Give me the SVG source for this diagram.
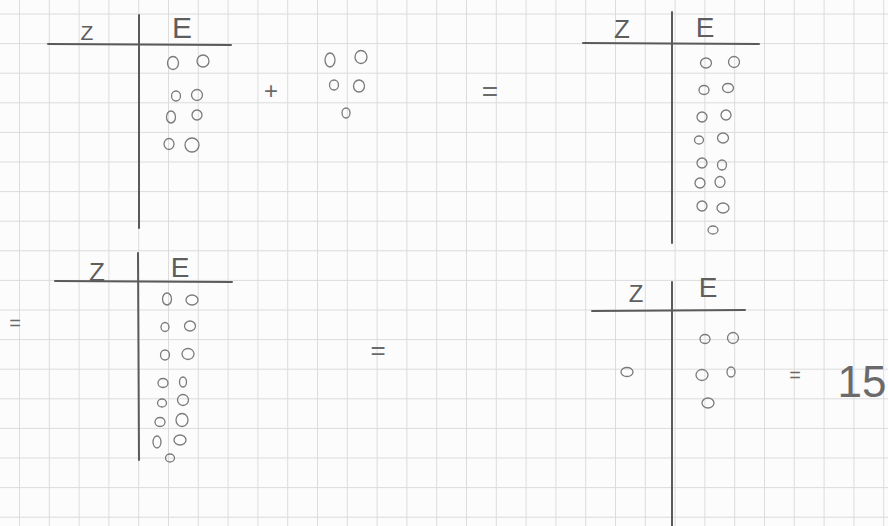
<svg xmlns="http://www.w3.org/2000/svg" width="888" height="526" viewBox="0 0 888 526">
<defs>
<style>
.bg{fill:#fcfcfc}
.grid line{stroke:#dcdcdc;stroke-width:1}
.rule{stroke:#5a5a5a;stroke-width:2;stroke-linecap:round}
.dot{fill:none;stroke:#7a7a7a;stroke-width:1.3}
.lbl{font-family:"Liberation Sans","DejaVu Sans",sans-serif;fill:#5e5e5e;text-anchor:middle}
.op{font-family:"Liberation Sans","DejaVu Sans",sans-serif;fill:#6a6a6a;text-anchor:middle}
</style>
</defs>
<rect class="bg" x="0" y="0" width="888" height="526"/>
<g class="grid" id="grid">
<line x1="19.5" y1="0" x2="19.5" y2="526"/><line x1="49.3" y1="0" x2="49.3" y2="526"/><line x1="79.1" y1="0" x2="79.1" y2="526"/><line x1="108.9" y1="0" x2="108.9" y2="526"/><line x1="138.7" y1="0" x2="138.7" y2="526"/><line x1="168.5" y1="0" x2="168.5" y2="526"/><line x1="198.3" y1="0" x2="198.3" y2="526"/><line x1="228.1" y1="0" x2="228.1" y2="526"/><line x1="257.9" y1="0" x2="257.9" y2="526"/><line x1="287.7" y1="0" x2="287.7" y2="526"/><line x1="317.5" y1="0" x2="317.5" y2="526"/><line x1="347.3" y1="0" x2="347.3" y2="526"/><line x1="377.1" y1="0" x2="377.1" y2="526"/><line x1="406.9" y1="0" x2="406.9" y2="526"/><line x1="436.7" y1="0" x2="436.7" y2="526"/><line x1="466.5" y1="0" x2="466.5" y2="526"/><line x1="496.3" y1="0" x2="496.3" y2="526"/><line x1="526.1" y1="0" x2="526.1" y2="526"/><line x1="555.9" y1="0" x2="555.9" y2="526"/><line x1="585.7" y1="0" x2="585.7" y2="526"/><line x1="615.5" y1="0" x2="615.5" y2="526"/><line x1="645.3" y1="0" x2="645.3" y2="526"/><line x1="675.1" y1="0" x2="675.1" y2="526"/><line x1="704.9" y1="0" x2="704.9" y2="526"/><line x1="734.7" y1="0" x2="734.7" y2="526"/><line x1="764.5" y1="0" x2="764.5" y2="526"/><line x1="794.3" y1="0" x2="794.3" y2="526"/><line x1="824.1" y1="0" x2="824.1" y2="526"/><line x1="853.9" y1="0" x2="853.9" y2="526"/><line x1="883.7" y1="0" x2="883.7" y2="526"/>
<line x1="0" y1="14" x2="888" y2="14"/><line x1="0" y1="43.6" x2="888" y2="43.6"/><line x1="0" y1="73.2" x2="888" y2="73.2"/><line x1="0" y1="102.8" x2="888" y2="102.8"/><line x1="0" y1="132.4" x2="888" y2="132.4"/><line x1="0" y1="162" x2="888" y2="162"/><line x1="0" y1="191.6" x2="888" y2="191.6"/><line x1="0" y1="221.2" x2="888" y2="221.2"/><line x1="0" y1="250.8" x2="888" y2="250.8"/><line x1="0" y1="280.4" x2="888" y2="280.4"/><line x1="0" y1="310" x2="888" y2="310"/><line x1="0" y1="339.6" x2="888" y2="339.6"/><line x1="0" y1="369.2" x2="888" y2="369.2"/><line x1="0" y1="398.8" x2="888" y2="398.8"/><line x1="0" y1="428.4" x2="888" y2="428.4"/><line x1="0" y1="458" x2="888" y2="458"/><line x1="0" y1="487.6" x2="888" y2="487.6"/><line x1="0" y1="517.2" x2="888" y2="517.2"/>
</g>

<g id="table1">
<line class="rule" x1="48" y1="44" x2="231" y2="45"/>
<line class="rule" x1="139" y1="15" x2="139" y2="228"/>
<text class="lbl" x="87" y="40" font-size="21">Z</text>
<text class="lbl" x="182" y="38" font-size="30">E</text>
<ellipse class="dot" cx="173" cy="63" rx="5.5" ry="6.5"/><ellipse class="dot" cx="203" cy="61" rx="6" ry="6"/>
<ellipse class="dot" cx="176" cy="96" rx="4.5" ry="5"/><ellipse class="dot" cx="197" cy="95" rx="5.5" ry="5.5"/>
<ellipse class="dot" cx="171" cy="117" rx="4.5" ry="6"/><ellipse class="dot" cx="197" cy="115" rx="5" ry="5"/>
<ellipse class="dot" cx="169" cy="144" rx="5" ry="5.5"/><ellipse class="dot" cx="192" cy="145" rx="7" ry="7"/>
</g>

<g id="plus">
<text class="op" x="271" y="99" font-size="24">+</text>
</g>

<g id="addend">
<ellipse class="dot" cx="330" cy="60" rx="5" ry="7"/><ellipse class="dot" cx="361" cy="57" rx="6" ry="6.5"/>
<ellipse class="dot" cx="334" cy="85" rx="4.5" ry="5"/><ellipse class="dot" cx="359" cy="86" rx="5.5" ry="6"/>
<ellipse class="dot" cx="346" cy="113" rx="4" ry="5"/>
</g>

<g id="eq1">
<text class="op" x="490" y="101" font-size="28">=</text>
</g>

<g id="table2">
<line class="rule" x1="583" y1="43" x2="759" y2="44"/>
<line class="rule" x1="672" y1="12" x2="672" y2="243"/>
<text class="lbl" x="622" y="38" font-size="26">Z</text>
<text class="lbl" x="705" y="37" font-size="28">E</text>
<ellipse class="dot" cx="706" cy="63" rx="5.5" ry="5"/><ellipse class="dot" cx="734" cy="62" rx="5.5" ry="5.5"/>
<ellipse class="dot" cx="704" cy="90" rx="5" ry="4.5"/><ellipse class="dot" cx="728" cy="88" rx="5.5" ry="4.5"/>
<ellipse class="dot" cx="702" cy="117" rx="5" ry="5"/><ellipse class="dot" cx="726" cy="115" rx="5" ry="5"/>
<ellipse class="dot" cx="699" cy="140" rx="4.5" ry="4"/><ellipse class="dot" cx="723" cy="138" rx="5.5" ry="5"/>
<ellipse class="dot" cx="702" cy="163" rx="5" ry="5"/><ellipse class="dot" cx="722" cy="165" rx="4.5" ry="5"/>
<ellipse class="dot" cx="700" cy="183" rx="5" ry="5"/><ellipse class="dot" cx="720" cy="182" rx="5" ry="5.5"/>
<ellipse class="dot" cx="702" cy="206" rx="5" ry="5"/><ellipse class="dot" cx="723" cy="208" rx="6" ry="5"/>
<ellipse class="dot" cx="713" cy="230" rx="5" ry="4"/>
</g>

<g id="eq2">
<text class="op" x="15" y="330" font-size="20">=</text>
</g>

<g id="table3">
<line class="rule" x1="55" y1="281" x2="232" y2="282"/>
<line class="rule" x1="138" y1="253" x2="139" y2="460"/>
<text class="lbl" x="97" y="281" font-size="26">Z</text>
<text class="lbl" x="180" y="277" font-size="28">E</text>
<ellipse class="dot" cx="167" cy="299" rx="4.5" ry="6"/><ellipse class="dot" cx="192" cy="300" rx="6" ry="5"/>
<ellipse class="dot" cx="165" cy="327" rx="4" ry="4.5"/><ellipse class="dot" cx="190" cy="326" rx="5.5" ry="5"/>
<ellipse class="dot" cx="165" cy="355" rx="4.5" ry="5"/><ellipse class="dot" cx="188" cy="354" rx="6" ry="5.5"/>
<ellipse class="dot" cx="163" cy="383" rx="5" ry="4.5"/><ellipse class="dot" cx="183" cy="382" rx="3.5" ry="5"/>
<ellipse class="dot" cx="162" cy="403" rx="4.5" ry="4"/><ellipse class="dot" cx="183" cy="400" rx="5.5" ry="5.5"/>
<ellipse class="dot" cx="160" cy="422" rx="5" ry="4.5"/><ellipse class="dot" cx="182" cy="420" rx="6" ry="6.5"/>
<ellipse class="dot" cx="157" cy="442" rx="4" ry="6"/><ellipse class="dot" cx="180" cy="440" rx="6" ry="5"/>
<ellipse class="dot" cx="170" cy="458" rx="4.5" ry="4"/>
</g>

<g id="eq3">
<text class="op" x="378" y="359" font-size="26">=</text>
</g>

<g id="table4">
<line class="rule" x1="592" y1="311" x2="745" y2="310"/>
<line class="rule" x1="672" y1="282" x2="672" y2="526"/>
<text class="lbl" x="636" y="302" font-size="24">Z</text>
<text class="lbl" x="708" y="297" font-size="28">E</text>
<ellipse class="dot" cx="705" cy="339" rx="5" ry="4.5"/><ellipse class="dot" cx="733" cy="338" rx="5.5" ry="5.5"/>
<ellipse class="dot" cx="627" cy="372" rx="6" ry="4.5"/>
<ellipse class="dot" cx="702" cy="375" rx="6" ry="5.5"/><ellipse class="dot" cx="731" cy="372" rx="4" ry="5"/>
<ellipse class="dot" cx="708" cy="403" rx="6" ry="5"/>
</g>

<g id="result">
<text class="op" x="795" y="382" font-size="20">=</text>
<text class="op" x="862" y="397" font-size="44">15</text>
</g>

<g id="connectors"></g>
</svg>
